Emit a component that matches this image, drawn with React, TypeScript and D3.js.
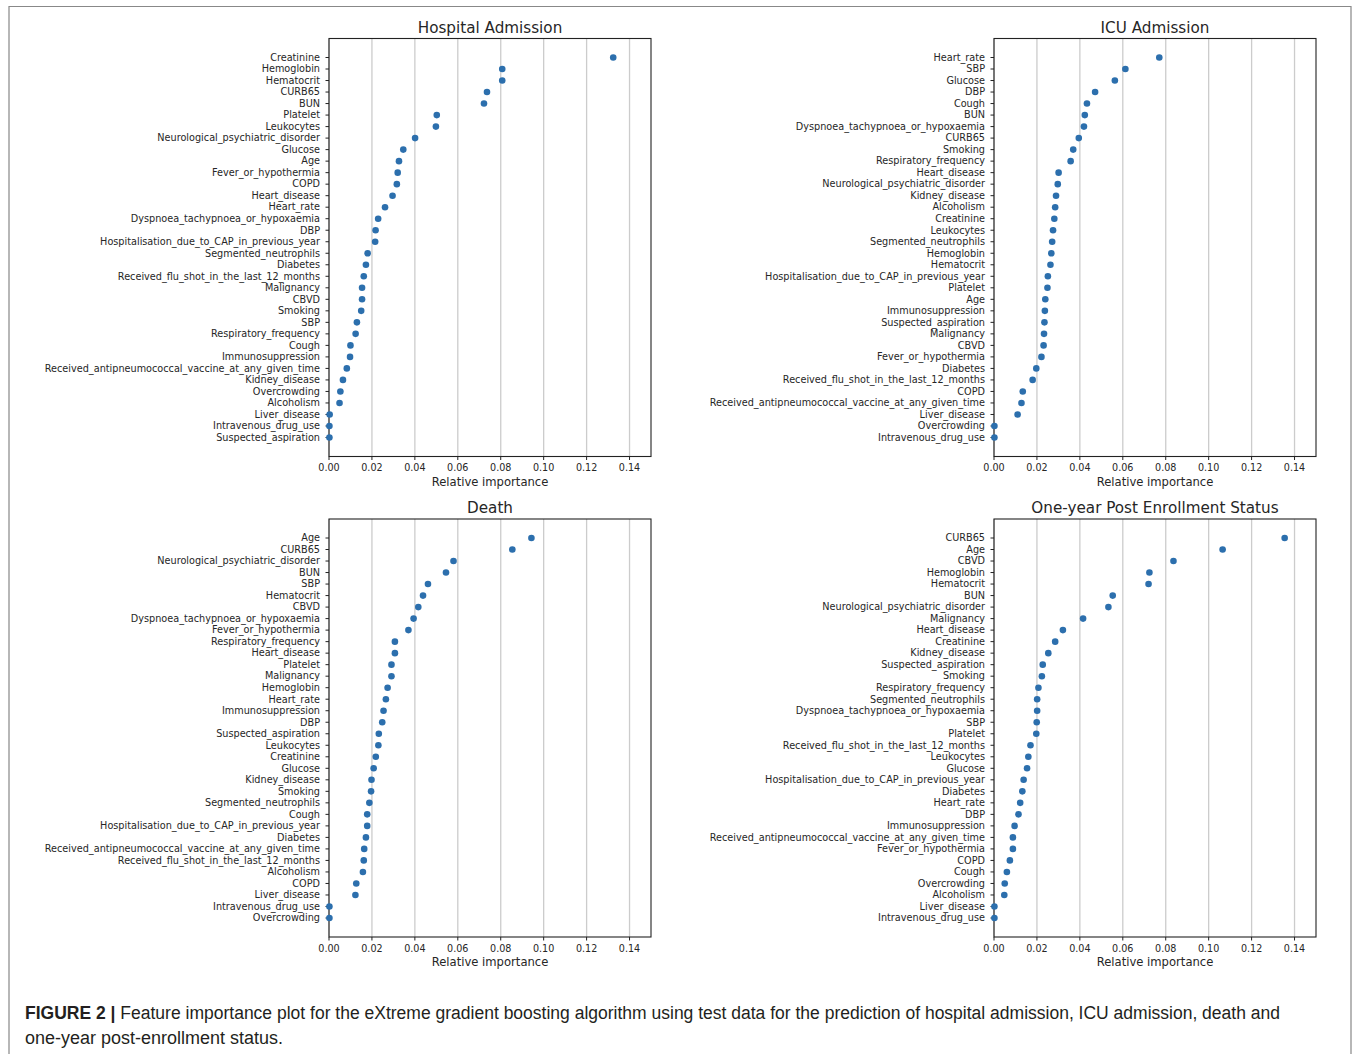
import React from 'react';
import * as d3 from 'd3';

// x ticks shared by all four panels
const xTicks = [0, 0.02, 0.04, 0.06, 0.08, 0.1, 0.12, 0.14];

const hospitalFeatures = [
  'Creatinine', 'Hemoglobin', 'Hematocrit', 'CURB65', 'BUN', 'Platelet', 'Leukocytes',
  'Neurological_psychiatric_disorder', 'Glucose', 'Age', 'Fever_or_hypothermia', 'COPD',
  'Heart_disease', 'Heart_rate', 'Dyspnoea_tachypnoea_or_hypoxaemia', 'DBP',
  'Hospitalisation_due_to_CAP_in_previous_year', 'Segmented_neutrophils', 'Diabetes',
  'Received_flu_shot_in_the_last_12_months', 'Malignancy', 'CBVD', 'Smoking', 'SBP',
  'Respiratory_frequency', 'Cough', 'Immunosuppression',
  'Received_antipneumococcal_vaccine_at_any_given_time', 'Kidney_disease', 'Overcrowding',
  'Alcoholism', 'Liver_disease', 'Intravenous_drug_use', 'Suspected_aspiration',
];
const hospitalValues = [
  0.1324, 0.0807, 0.0807, 0.0736, 0.0722, 0.0502, 0.0498, 0.0401, 0.0346, 0.0326, 0.032, 0.0316,
  0.0296, 0.0261, 0.0229, 0.0217, 0.0215, 0.018, 0.0172, 0.0162, 0.0154, 0.0154, 0.015, 0.013,
  0.0124, 0.01, 0.0098, 0.0083, 0.0065, 0.0053, 0.0049, 0.0003, 0.0002, 0.0002,
];

const icuFeatures = [
  'Heart_rate', 'SBP', 'Glucose', 'DBP', 'Cough', 'BUN', 'Dyspnoea_tachypnoea_or_hypoxaemia',
  'CURB65', 'Smoking', 'Respiratory_frequency', 'Heart_disease',
  'Neurological_psychiatric_disorder', 'Kidney_disease', 'Alcoholism', 'Creatinine',
  'Leukocytes', 'Segmented_neutrophils', 'Hemoglobin', 'Hematocrit',
  'Hospitalisation_due_to_CAP_in_previous_year', 'Platelet', 'Age', 'Immunosuppression',
  'Suspected_aspiration', 'Malignancy', 'CBVD', 'Fever_or_hypothermia', 'Diabetes',
  'Received_flu_shot_in_the_last_12_months', 'COPD',
  'Received_antipneumococcal_vaccine_at_any_given_time', 'Liver_disease', 'Overcrowding',
  'Intravenous_drug_use',
];
const icuValues = [
  0.077, 0.0612, 0.0563, 0.0471, 0.0433, 0.0423, 0.0419, 0.0395, 0.0369, 0.0357, 0.0301, 0.0297,
  0.0289, 0.0285, 0.0281, 0.0275, 0.0271, 0.0267, 0.0263, 0.0251, 0.0249, 0.0239, 0.0237, 0.0235,
  0.0233, 0.0231, 0.0221, 0.0197, 0.018, 0.0134, 0.0128, 0.011, 0.0002, 0.0002,
];

const deathFeatures = [
  'Age', 'CURB65', 'Neurological_psychiatric_disorder', 'BUN', 'SBP', 'Hematocrit', 'CBVD',
  'Dyspnoea_tachypnoea_or_hypoxaemia', 'Fever_or_hypothermia', 'Respiratory_frequency',
  'Heart_disease', 'Platelet', 'Malignancy', 'Hemoglobin', 'Heart_rate', 'Immunosuppression',
  'DBP', 'Suspected_aspiration', 'Leukocytes', 'Creatinine', 'Glucose', 'Kidney_disease',
  'Smoking', 'Segmented_neutrophils', 'Cough', 'Hospitalisation_due_to_CAP_in_previous_year',
  'Diabetes', 'Received_antipneumococcal_vaccine_at_any_given_time',
  'Received_flu_shot_in_the_last_12_months', 'Alcoholism', 'COPD', 'Liver_disease',
  'Intravenous_drug_use', 'Overcrowding',
];
const deathValues = [
  0.0943, 0.0854, 0.058, 0.0545, 0.0461, 0.0438, 0.0416, 0.0394, 0.037, 0.0307, 0.0307, 0.0291,
  0.0291, 0.0273, 0.0265, 0.0254, 0.0248, 0.0232, 0.023, 0.0218, 0.0208, 0.0198, 0.0196, 0.0188,
  0.0178, 0.0178, 0.0172, 0.0164, 0.0162, 0.0158, 0.0127, 0.0123, 0.0002, 0.0002,
];

const oneYearFeatures = [
  'CURB65', 'Age', 'CBVD', 'Hemoglobin', 'Hematocrit', 'BUN',
  'Neurological_psychiatric_disorder', 'Malignancy', 'Heart_disease', 'Creatinine',
  'Kidney_disease', 'Suspected_aspiration', 'Smoking', 'Respiratory_frequency',
  'Segmented_neutrophils', 'Dyspnoea_tachypnoea_or_hypoxaemia', 'SBP', 'Platelet',
  'Received_flu_shot_in_the_last_12_months', 'Leukocytes', 'Glucose',
  'Hospitalisation_due_to_CAP_in_previous_year', 'Diabetes', 'Heart_rate', 'DBP',
  'Immunosuppression', 'Received_antipneumococcal_vaccine_at_any_given_time',
  'Fever_or_hypothermia', 'COPD', 'Cough', 'Overcrowding', 'Alcoholism', 'Liver_disease',
  'Intravenous_drug_use',
];
const oneYearValues = [
  0.1354, 0.1065, 0.0836, 0.0724, 0.072, 0.0553, 0.0533, 0.0415, 0.0321, 0.0285, 0.0253, 0.0227,
  0.0223, 0.0207, 0.0201, 0.0201, 0.0199, 0.0197, 0.017, 0.016, 0.0154, 0.0138, 0.0132, 0.0122,
  0.0114, 0.0096, 0.0088, 0.0088, 0.0074, 0.006, 0.005, 0.0048, 0.0002, 0.0002,
];

const TEXT = '#262626';
const DOT = '#2c6fad';
const FONT = 'DejaVu Sans, sans-serif';

type PanelProps = {
  title: string;
  features: string[];
  values: number[];
  left: number;
  top: number;
};

function Panel({ title, features, values, left, top }: PanelProps) {
  const w = 322;
  const h = 418;
  const x = d3.scaleLinear().domain([0, 0.15]).range([left, left + w]);
  const pad = (features.length - 1) * 0.05;
  const y = d3.scaleLinear().domain([-pad, features.length - 1 + pad]).range([top, top + h]);
  const fmt = d3.format('.2f');

  return (
    <g>
      {xTicks.map(t => (
        <line key={'g' + t} x1={x(t)} x2={x(t)} y1={top} y2={top + h} stroke="#cccccc" strokeWidth={1.3} />
      ))}
      <rect x={left} y={top} width={w} height={h} fill="none" stroke="#222" strokeWidth={1.1} />
      <text x={left + w / 2} y={top - 6} textAnchor="middle" fontSize={15.2} fill={TEXT} fontFamily={FONT}>
        {title}
      </text>
      {xTicks.map(t => (
        <g key={'t' + t}>
          <line x1={x(t)} x2={x(t)} y1={top + h} y2={top + h + 3.5} stroke="#222" />
          <text x={x(t)} y={top + h + 14.5} textAnchor="middle" fontSize={9.6} fill={TEXT} fontFamily={FONT}>
            {fmt(t)}
          </text>
        </g>
      ))}
      <text x={left + w / 2} y={top + h + 29} textAnchor="middle" fontSize={11.6} fill={TEXT} fontFamily={FONT}>
        Relative importance
      </text>
      {features.map((f, i) => (
        <g key={f}>
          <line x1={left - 3.5} x2={left} y1={y(i)} y2={y(i)} stroke="#222" />
          <text x={left - 9} y={y(i)} dy="0.34em" textAnchor="end" fontSize={9.7} fill={TEXT} fontFamily={FONT}>
            {f}
          </text>
          <circle cx={x(values[i])} cy={y(i)} r={3.3} fill={DOT} />
        </g>
      ))}
    </g>
  );
}

export default function App() {
  return (
    <svg width={1355} height={1054} style={{ position: 'absolute', left: 0, top: 0, background: '#fff' }}>
      <rect x={0} y={0} width={1355} height={1054} fill="#fff" />
      <path d="M9,1054 V6.5 H1351 V1054" fill="none" stroke="#888" strokeWidth={1.2} />
      <Panel title="Hospital Admission" features={hospitalFeatures} values={hospitalValues} left={329} top={38.5} />
      <Panel title="ICU Admission" features={icuFeatures} values={icuValues} left={994} top={38.5} />
      <Panel title="Death" features={deathFeatures} values={deathValues} left={329} top={519} />
      <Panel title="One-year Post Enrollment Status" features={oneYearFeatures} values={oneYearValues} left={994} top={519} />
      <text x={25} y={1019} fontSize={18} fill="#231f20" fontFamily="Liberation Sans, Arial, sans-serif"
        textLength={1255} lengthAdjust="spacingAndGlyphs">
        <tspan fontWeight="bold">FIGURE 2 | </tspan>
        <tspan>Feature importance plot for the eXtreme gradient boosting algorithm using test data for the prediction of hospital admission, ICU admission, death and</tspan>
      </text>
      <text x={25} y={1044} fontSize={18} fill="#231f20" fontFamily="Liberation Sans, Arial, sans-serif"
        textLength={258} lengthAdjust="spacingAndGlyphs">
        one-year post-enrollment status.
      </text>
    </svg>
  );
}
